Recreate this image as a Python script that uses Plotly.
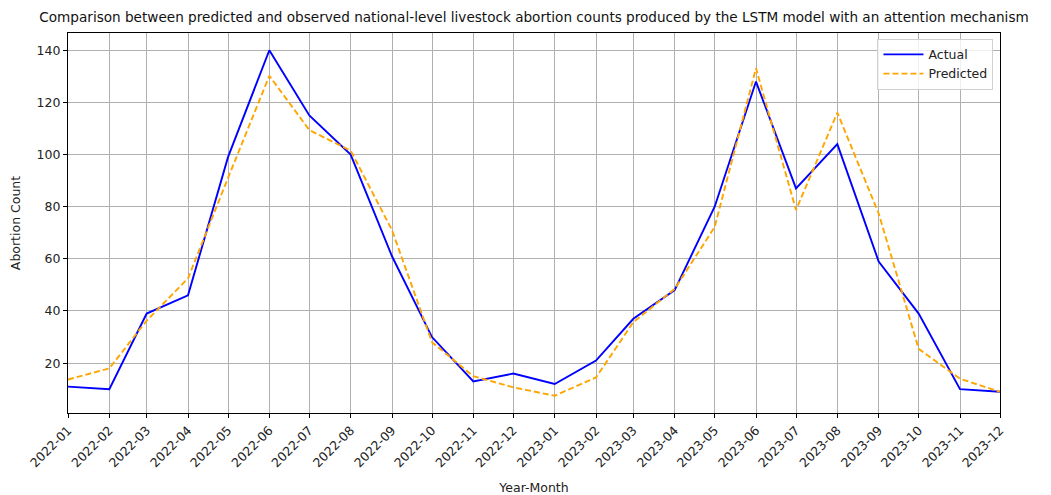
import plotly.graph_objects as go

# Monthly national-level livestock abortion counts
months = ["2022-01", "2022-02", "2022-03", "2022-04", "2022-05", "2022-06",
          "2022-07", "2022-08", "2022-09", "2022-10", "2022-11", "2022-12",
          "2023-01", "2023-02", "2023-03", "2023-04", "2023-05", "2023-06",
          "2023-07", "2023-08", "2023-09", "2023-10", "2023-11", "2023-12"]

actual = [11, 10, 39, 46, 99, 140, 115, 100, 61, 30, 13, 16,
          12, 21, 37, 48, 80, 128, 87, 104, 59, 39, 10, 9]

predicted = [13.7, 18.0, 36.3, 52.5, 91, 130.2, 109.4, 101.5, 71, 28.0, 15.0, 10.7,
             7.5, 14.5, 35.7, 48.5, 72.2, 133.1, 78.7, 116.1, 77.4, 25.5, 14.0, 9.0]

y_ticks = [20, 40, 60, 80, 100, 120, 140]

dates = [m + "-01" for m in months]

# y range padded 5% on each side of the data span
lo = min(min(actual), min(predicted))
hi = max(max(actual), max(predicted))
pad = 0.05 * (hi - lo)

font_family = "DejaVu Sans"

fig = go.Figure()
fig.add_trace(go.Scatter(
    x=dates, y=actual, mode="lines", name="Actual",
    line=dict(color="#0000ff", width=1.9),
))
fig.add_trace(go.Scatter(
    x=dates, y=predicted, mode="lines", name="Predicted",
    line=dict(color="#ffa500", width=1.9, dash="6px,3px"),
))

axis_common = dict(
    showline=True, linecolor="black", linewidth=1.2, mirror=True,
    showgrid=True, gridcolor="#b0b0b0", gridwidth=1,
    ticks="outside", ticklen=4, tickcolor="black", tickwidth=1,
    zeroline=False, automargin=False,
)

fig.update_layout(
    width=1051, height=495,
    margin=dict(l=68, r=51, t=33, b=82),
    paper_bgcolor="white", plot_bgcolor="white",
    font=dict(family=font_family, color="#222222"),
    title=dict(
        text="Comparison between predicted and observed national-level livestock abortion counts produced by the LSTM model with an attention mechanism",
        x=0.5, xref="paper", xanchor="center",
        y=1, yref="container", yanchor="top", pad=dict(t=12),
        font=dict(family=font_family, size=13.6, color="#111111"),
    ),
    xaxis=dict(
        type="date",
        range=[dates[0], dates[-1]],
        tickvals=dates, ticktext=months,
        tickangle=-45,
        tickfont=dict(family=font_family, size=12.5, color="#222222"),
        title=dict(text="Year-Month", font=dict(family=font_family, size=12.5), standoff=14),
        **axis_common,
    ),
    yaxis=dict(
        range=[lo - pad, hi + pad],
        tickvals=y_ticks,
        tickfont=dict(family=font_family, size=12.5, color="#222222"),
        title=dict(text="Abortion Count", font=dict(family=font_family, size=12.5), standoff=13),
        **axis_common,
    ),
    legend=dict(
        x=0.993, y=0.985, xanchor="right", yanchor="top",
        bgcolor="rgba(255,255,255,0.8)", bordercolor="#d0d0d0", borderwidth=1,
        font=dict(family=font_family, size=12.5, color="#222222"),
        itemwidth=40,
    ),
    showlegend=True,
)

fig.write_html("out.html")
